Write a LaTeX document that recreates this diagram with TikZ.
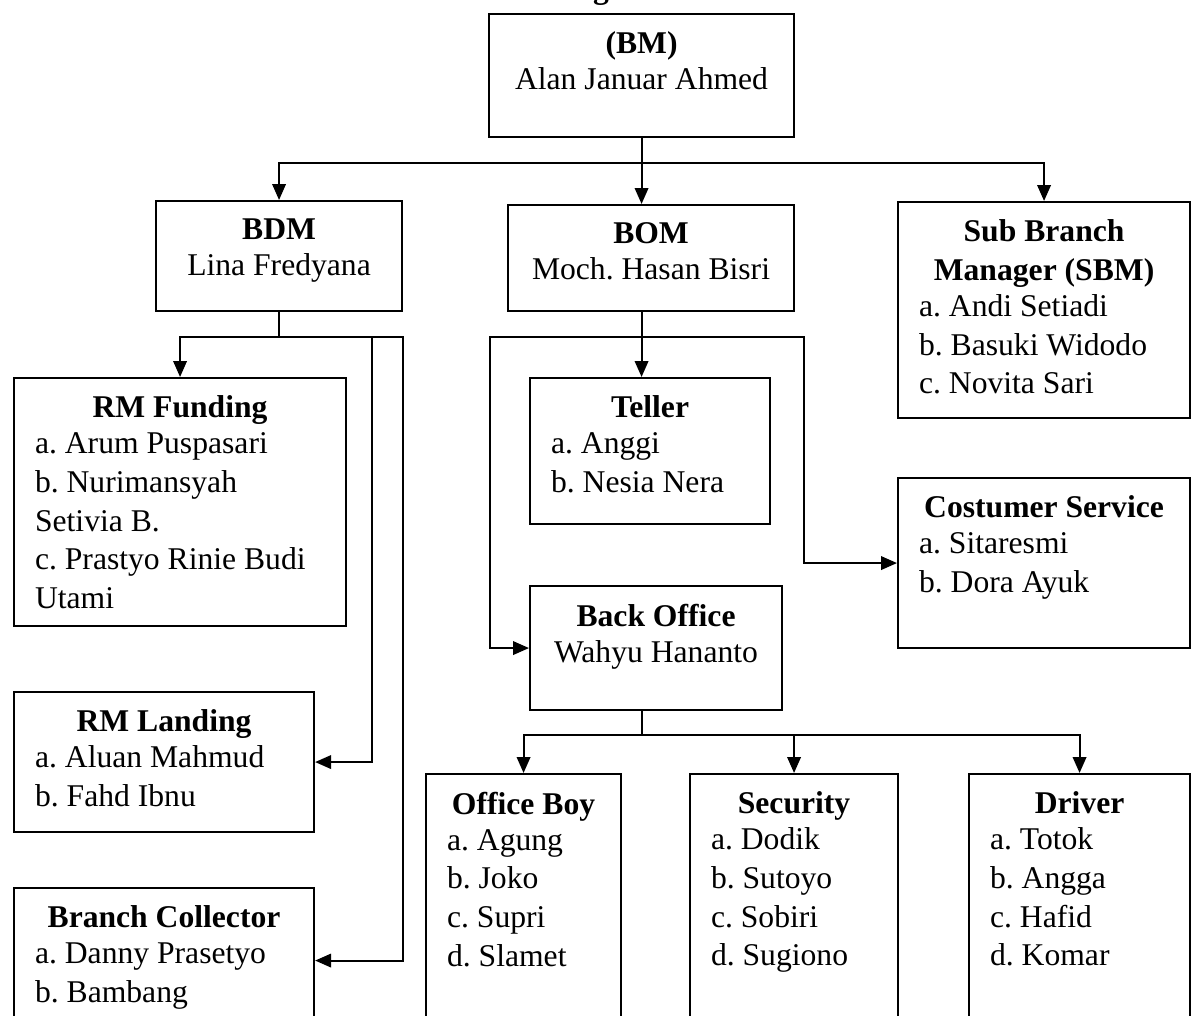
\documentclass[tikz,border=0pt]{standalone}
\usepackage{fontspec}
\setmainfont{Liberation Serif}
\usetikzlibrary{positioning,arrows.meta}
\frenchspacing
\newcommand{\tit}[1]{{\centering\bfseries #1\par}\vspace{-1.5pt}}

\begin{document}
\begin{tikzpicture}[every node/.style={font=\fontsize{18}{22}\selectfont},
  unit/.style={draw,line width=1.2pt,anchor=north west,inner sep=0pt},
  head/.style={align=center,inner sep=0pt},
  list/.style={align=flush left,inner sep=0pt},
  link/.style={line width=1.2pt},
  arr/.style={line width=1.2pt,-{Triangle[length=0.32cm,width=0.27cm]}}]
\useasboundingbox (0,0) rectangle (23.84,-20.32);
\clip (0,0) rectangle (23.84,-20.32);
% title line, cut off at the top
\node[anchor=base,font=\fontsize{18}{22}\selectfont\bfseries] (ttl) at (12.02,0.03) {g};
% top level
\node[unit,minimum width=6.10cm,minimum height=2.46cm] (bm) at (9.76,-0.26) {};
\node[head,below=0.37cm of bm.north] (bmt) {\textbf{(BM)}\\[-1.5pt]Alan Januar Ahmed};
% second level
\node[unit,minimum width=4.92cm,minimum height=2.20cm] (bdm) at (3.10,-4.00) {};
\node[head,below=0.37cm of bdm.north] (bdmt) {\textbf{BDM}\\[-1.5pt]Lina Fredyana};
\node[unit,minimum width=5.72cm,minimum height=2.12cm] (bom) at (10.14,-4.08) {};
\node[head,below=0.37cm of bom.north] (bomt) {\textbf{BOM}\\[-1.5pt]Moch. Hasan Bisri};
\node[unit,minimum width=5.84cm,minimum height=4.32cm] (sbm) at (17.94,-4.02) {};
\node[list,text width=5.00cm,below=0.37cm of sbm.north] (sbmt) {\tit{Sub Branch\\Manager (SBM)}a. Andi Setiadi\\b. Basuki Widodo\\c. Novita Sari};
% under BDM
\node[unit,minimum width=6.64cm,minimum height=4.96cm] (rmf) at (0.26,-7.54) {};
\node[list,text width=5.80cm,below=0.37cm of rmf.north] (rmft) {\tit{RM Funding}a. Arum Puspasari\\b. Nurimansyah\\Setivia B.\\c. Prastyo Rinie Budi\\Utami};
\node[unit,minimum width=6.00cm,minimum height=2.80cm] (rml) at (0.26,-13.82) {};
\node[list,text width=5.16cm,below=0.37cm of rml.north] (rmlt) {\tit{RM Landing}a. Aluan Mahmud\\b. Fahd Ibnu};
\node[unit,minimum width=6.00cm,minimum height=2.90cm] (bc) at (0.26,-17.74) {};
\node[list,text width=5.16cm,below=0.37cm of bc.north] (bct) {\tit{Branch Collector}a. Danny Prasetyo\\b. Bambang};
% under BOM
\node[unit,minimum width=4.80cm,minimum height=2.92cm] (tel) at (10.58,-7.54) {};
\node[list,text width=3.96cm,below=0.37cm of tel.north] (telt) {\tit{Teller}a. Anggi\\b. Nesia Nera};
\node[unit,minimum width=5.84cm,minimum height=3.40cm] (cs) at (17.94,-9.54) {};
\node[list,text width=5.00cm,below=0.37cm of cs.north] (cst) {\tit{Costumer Service}a. Sitaresmi\\b. Dora Ayuk};
\node[unit,minimum width=5.04cm,minimum height=2.48cm] (bo) at (10.58,-11.70) {};
\node[head,below=0.37cm of bo.north] (bot) {\textbf{Back Office}\\[-1.5pt]Wahyu Hananto};
% under Back Office
\node[unit,minimum width=3.90cm,minimum height=5.20cm] (ob) at (8.50,-15.46) {};
\node[list,text width=3.06cm,below=0.37cm of ob.north] (obt) {\tit{Office Boy}a. Agung\\b. Joko\\c. Supri\\d. Slamet};
\node[unit,minimum width=4.16cm,minimum height=5.20cm] (sec) at (13.78,-15.46) {};
\node[list,text width=3.32cm,below=0.37cm of sec.north] (sect) {\tit{Security}a. Dodik\\b. Sutoyo\\c. Sobiri\\d. Sugiono};
\node[unit,minimum width=4.42cm,minimum height=5.20cm] (drv) at (19.36,-15.46) {};
\node[list,text width=3.58cm,below=0.37cm of drv.north] (drvt) {\tit{Driver}a. Totok\\b. Angga\\c. Hafid\\d. Komar};
% BM to second level
\coordinate[below=0.5cm of bm.south] (jm);
\draw[link] (bm.south) -- (jm);
\draw[arr] (jm) -| (bdm.north);
\draw[arr] (jm) -| (sbm.north);
\draw[arr] (bm.south |- jm) -- (bm.south |- bom.north);
% BDM fan
\coordinate[below=0.5cm of bdm.south] (jd);
\coordinate[right=1.86cm of jd] (jd1);
\coordinate (jd2) at (jd -| bdm.east);
\draw[link] (bdm.south) -- (jd);
\draw[arr] (jd) -| (rmf.north);
\draw[arr] (jd) -- (jd1) |- (rml.east);
\draw[arr] (jd1) -- (jd2) |- (bc.east);
% BOM fan
\coordinate (jo) at (bm.south |- jd);
\coordinate[left=3.03cm of jo] (jo1);
\coordinate[right=3.25cm of jo] (jo2);
\draw[link] (bm.south |- bom.south) -- (jo);
\draw[arr] (jo) -- (jo |- tel.north);
\draw[arr] (jo) -- (jo1) |- (bo.west);
\draw[arr] (jo) -- (jo2) |- (cs.west);
% Back Office fan
\coordinate[below=0.48cm of bo.south] (jb);
\draw[link] (bo.south -| jo) -- (jb -| jo);
\draw[arr] (jb -| jo) -| (ob.north);
\draw[arr] (jb -| jo) -| (sec.north);
\draw[arr] (jb -| jo) -| (drv.north);
\end{tikzpicture}
\end{document}
